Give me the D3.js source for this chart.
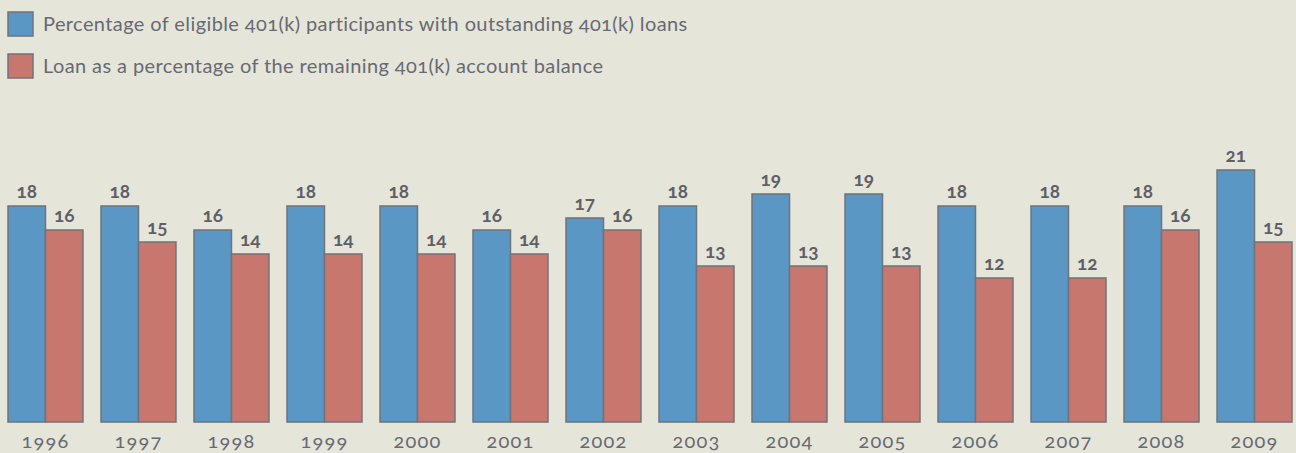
<!DOCTYPE html>
<html>
<head>
<meta charset="utf-8">
<script src="https://cdn.jsdelivr.net/npm/d3@7"></script>
<style>
  body { margin: 0; background: #e6e5da; }
  svg { display: block; font-family: Lato, "Open Sans", sans-serif; font-variant-numeric: oldstyle-nums; }
</style>
</head>
<body>
<div id="chart"></div>
<script>
// Chart data
var years = ["1996", "1997", "1998", "1999", "2000", "2001", "2002", "2003", "2004", "2005", "2006", "2007", "2008", "2009"];
var participants = [18, 18, 16, 18, 18, 16, 17, 18, 19, 19, 18, 18, 18, 21];
var loanShare = [16, 15, 14, 14, 14, 14, 16, 13, 13, 13, 12, 12, 16, 15];
var seriesNames = [
  "Percentage of eligible 401(k) participants with outstanding 401(k) loans",
  "Loan as a percentage of the remaining 401(k) account balance"
];
var colors = ["#5b97c5", "#c8776f"];

var svgWidth = 1296;
var svgHeight = 453;

var svg = d3.select("#chart")
  .append("svg")
  .attr("width", svgWidth)
  .attr("height", svgHeight);

svg.append("rect")
  .attr("width", svgWidth)
  .attr("height", svgHeight)
  .attr("fill", "#e6e5da");

// legend
var legend = svg.selectAll(".legend")
  .data(seriesNames)
  .enter().append("g")
  .attr("transform", (d, i) => `translate(8, ${12 + i * 42})`);

legend.append("rect")
  .attr("width", 25)
  .attr("height", 24)
  .attr("fill", (d, i) => colors[i])
  .attr("stroke", "#6f737b")
  .attr("stroke-width", 1.5);

legend.append("text")
  .attr("x", 35)
  .attr("y", 19)
  .attr("font-size", 20)
  .attr("letter-spacing", 0.4)
  .attr("fill", "#676a72")
  .text(d => d);

// scales
var baseline = 422;
var x0 = d3.scaleBand()
  .domain(years)
  .range([8, 1292])
  .paddingInner(0.194)
  .paddingOuter(0);

var x1 = d3.scaleBand()
  .domain([0, 1])
  .range([0, x0.bandwidth()]);

var y = d3.scaleLinear()
  .domain([0, 18])
  .range([baseline, 206]);

var groups = svg.selectAll(".year")
  .data(years)
  .enter().append("g")
  .attr("transform", d => `translate(${x0(d)}, 0)`);

var barData = (d, i) => [participants[i], loanShare[i]];

groups.selectAll("rect")
  .data(barData)
  .enter().append("rect")
  .attr("x", (v, j) => x1(j))
  .attr("y", v => y(v))
  .attr("width", x1.bandwidth())
  .attr("height", v => baseline - y(v))
  .attr("fill", (v, j) => colors[j])
  .attr("stroke", "#6f737b")
  .attr("stroke-width", 1.5);

groups.selectAll("text.val")
  .data(barData)
  .enter().append("text")
  .attr("class", "val")
  .attr("x", (v, j) => x1(j) + x1.bandwidth() / 2)
  .attr("y", v => y(v) - 8)
  .attr("text-anchor", "middle")
  .attr("font-size", 19)
  .attr("font-weight", "bold")
  .attr("fill", "#5d6068")
  .text(v => v);

// x axis labels
var xAxis = d3.axisBottom(x0).tickSize(0).tickPadding(12);
var axisG = svg.append("g")
  .attr("transform", `translate(0, ${baseline})`)
  .call(xAxis);
axisG.select(".domain").remove();
axisG.selectAll("text")
  .attr("font-size", 20)
  .attr("letter-spacing", 1.2)
  .attr("font-family", "Lato, 'Open Sans', sans-serif")
  .attr("fill", "#676a72");
</script>
</body>
</html>
